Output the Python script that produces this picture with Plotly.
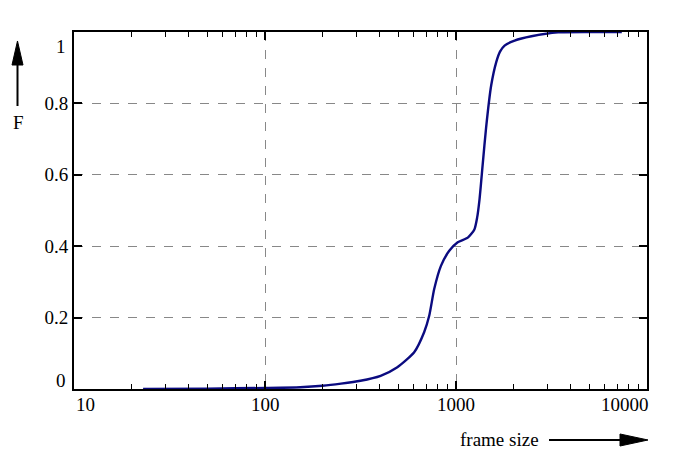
import math
import plotly.graph_objects as go

# frame size vs cumulative fraction F
frame_size = [23, 50, 100, 153, 200, 250, 316, 403, 493, 604, 681, 724, 769, 834,
              922, 1021, 1153, 1248, 1290, 1327, 1380, 1438, 1528, 1623, 1700, 1796,
              2027, 2483, 3428, 5560, 7380]
cdf = [0, 0.001, 0.003, 0.005, 0.009, 0.015, 0.023, 0.037, 0.061, 0.103, 0.159,
       0.205, 0.28, 0.345, 0.387, 0.411, 0.424, 0.447, 0.48, 0.53, 0.63, 0.733,
       0.85, 0.915, 0.945, 0.962, 0.976, 0.988, 0.999, 1.0, 1.0]

x_ticks = [10, 100, 1000, 10000]
x_labels = ['10', '100', '1000', '10000']
y_ticks = [0, 0.2, 0.4, 0.6, 0.8, 1]
y_labels = ['0', '0.2', '0.4', '0.6', '0.8', '1']
x_minor = [m * d for d in x_ticks[:-1] for m in range(2, 10)]

FONT = 'Liberation Serif'
FS = 19
W, H = 697, 460
OFF = 8  # page body margin
ML, MT = 74 - OFF, 32 - OFF
PW, PH = 573, 357
MR, MB = W - ML - PW, H - MT - PH


def px(x):
    return (x - OFF - ML) / PW


def py(y):
    return (MT + PH - (y - OFF)) / PH


data = [go.Scatter(x=frame_size, y=cdf, mode='lines',
                   line=dict(color='#0b0b80', width=2.4, shape='spline', smoothing=0.6),
                   hoverinfo='x+y')]

axis_style = dict(showline=True, linecolor='black', linewidth=2, mirror='allticks',
                  ticks='inside', ticklen=8, tickwidth=1.5, tickcolor='black',
                  showgrid=True, gridcolor='#888888', griddash='dash', gridwidth=1,
                  zeroline=False, tickfont=dict(family=FONT, size=FS, color='black'))

layout = go.Layout(
    width=W, height=H,
    margin=dict(l=ML, r=MR, t=MT, b=MB),
    paper_bgcolor='white', plot_bgcolor='white',
    showlegend=False,
    xaxis=dict(type='log', range=[math.log10(x_ticks[0]), math.log10(x_ticks[-1])],
               tickmode='linear', tick0=0, dtick=1, showticklabels=False,
               minor=dict(tickmode='array', tickvals=x_minor, ticks='inside',
                          ticklen=5, tickwidth=1.3, tickcolor='black', showgrid=False),
               **axis_style),
    yaxis=dict(range=[y_ticks[0], y_ticks[-1]], tickvals=y_ticks,
               ticktext=[''] + y_labels[1:-1] + [''],
               **axis_style),
)

fig = go.Figure(data=data, layout=layout)

lab_font = dict(family=FONT, size=FS, color='black')
# x tick labels; the end ones are pushed inside the frame
for i, (v, t) in enumerate(zip(x_ticks, x_labels)):
    anchor = 'left' if i == 0 else 'right' if i == len(x_ticks) - 1 else 'center'
    fig.add_annotation(x=math.log10(v), y=0, xref='x', yref='paper', text=t,
                       showarrow=False, xanchor=anchor, yanchor='top',
                       xshift=4 if anchor == 'right' else 0, yshift=-3, font=lab_font)
fig.add_annotation(x=0, y=y_ticks[0], xref='paper', yref='y', text=y_labels[0],
                   showarrow=False, xanchor='right', yanchor='bottom', xshift=-6,
                   yshift=-4, font=lab_font)
fig.add_annotation(x=0, y=y_ticks[-1], xref='paper', yref='y', text=y_labels[-1],
                   showarrow=False, xanchor='right', yanchor='top', xshift=-6,
                   yshift=-2, font=lab_font)

# axis names with arrows
fig.add_annotation(x=px(18), y=py(122), xref='paper', yref='paper', text='F',
                   showarrow=False, xanchor='center', yanchor='middle', font=lab_font)
fig.add_annotation(x=px(541), y=py(439), xref='paper', yref='paper', text='frame size',
                   showarrow=False, xanchor='right', yanchor='middle', font=lab_font)
fig.add_shape(type='line', xref='paper', yref='paper', x0=px(17.5), x1=px(17.5),
              y0=py(106), y1=py(64), line=dict(color='black', width=2))
fig.add_shape(type='path', xref='paper', yref='paper', fillcolor='black',
              line=dict(color='black', width=1),
              path='M %f,%f L %f,%f L %f,%f Z' % (px(12), py(65), px(17.5), py(41),
                                                   px(23), py(65)))
fig.add_shape(type='line', xref='paper', yref='paper', x0=px(549), x1=px(622),
              y0=py(440), y1=py(440), line=dict(color='black', width=2))
fig.add_shape(type='path', xref='paper', yref='paper', fillcolor='black',
              line=dict(color='black', width=1),
              path='M %f,%f L %f,%f L %f,%f Z' % (px(620), py(434), px(648), py(440),
                                                   px(620), py(446)))

fig.write_html('out.html')
